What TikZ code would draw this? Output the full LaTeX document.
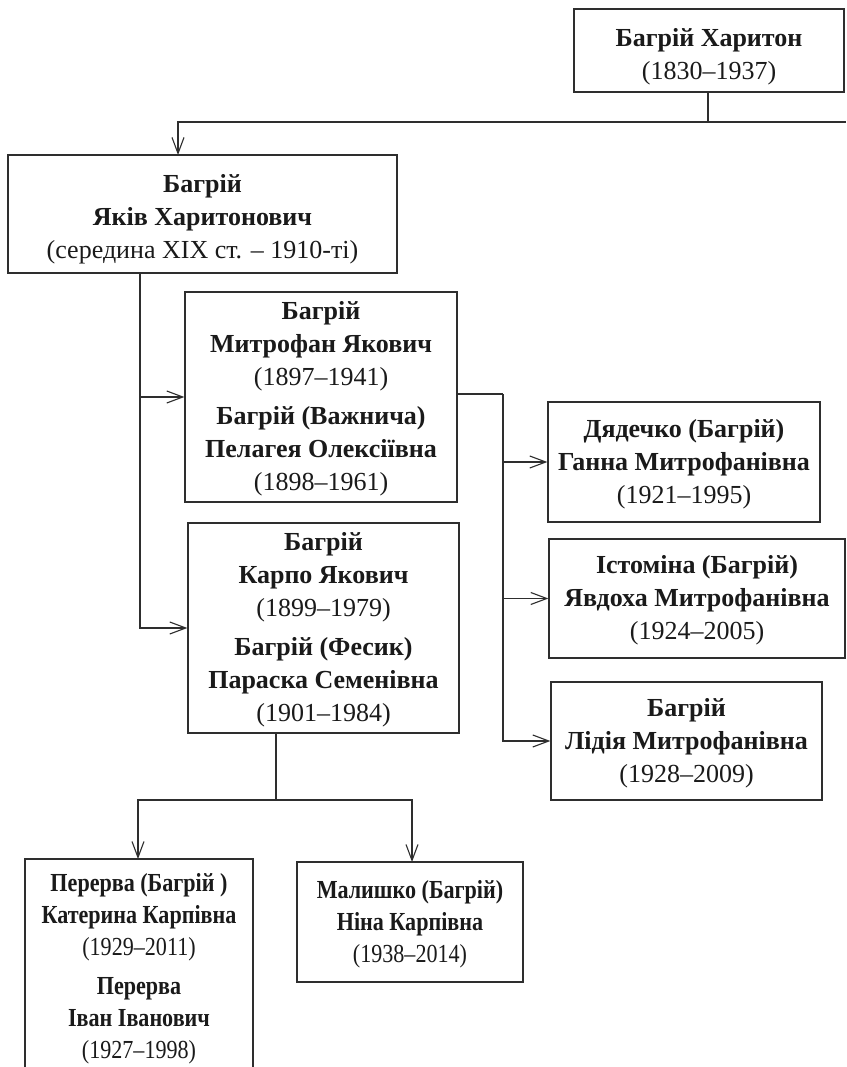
\documentclass[tikz,border=0pt]{standalone}
\usepackage{fontspec}
\setmainfont{Liberation Serif}
\newfontfamily\condserif{Liberation Serif}[FakeStretch=0.85]
\usetikzlibrary{arrows.meta}
\definecolor{ink}{HTML}{1A1A1A}
\definecolor{linec}{HTML}{2E2E2E}
\begin{document}
\begin{tikzpicture}[x=1pt,y=1pt,
  box/.style={draw=linec, line width=1.3pt, inner sep=0pt},
  txt/.style={align=center, inner sep=0pt, text=ink, font=\fontsize{26}{33}\selectfont},
  ctxt/.style={txt, font=\fontsize{26}{32}\condserif},
  conn/.style={draw=linec, line width=1.3pt},
  arr/.style={conn, -{Straight Barb[length=16pt,width=12pt,line width=1.1pt]}}
]
\clip (0,0) rectangle (846,-1067);
\fill[white] (0,0) rectangle (846,-1067);

% boxes
\node[box, minimum width=270, minimum height=83] (h) at (709,-50.5) {};
\node[box, minimum width=389, minimum height=118] (y) at (202.5,-214) {};
\node[box, minimum width=272, minimum height=210] (m) at (321,-397) {};
\node[box, minimum width=271, minimum height=210] (k) at (323.5,-628) {};
\node[box, minimum width=272, minimum height=120] (g) at (684,-462) {};
\node[box, minimum width=296, minimum height=119] (ya) at (697,-598.5) {};
\node[box, minimum width=271, minimum height=118] (l) at (686.5,-741) {};
\node[box, minimum width=228, minimum height=216] (p) at (139,-967) {};
\node[box, minimum width=226, minimum height=120] (n) at (410,-922) {};

% texts
\node[txt] (ht) at ([yshift=-6]h.center)
  {\textbf{Багрій Харитон}\\(1830–1937)};
\node[txt] (yt) at ([yshift=-5]y.center)
  {\textbf{Багрій}\\\textbf{Яків Харитонович}\\(середина XIX ст. – 1910-ті)};
\node[txt] (mt) at ([yshift=-2]m.center)
  {\textbf{Багрій}\\\textbf{Митрофан Якович}\\(1897–1941)\\[6pt]\textbf{Багрій (Важнича)}\\\textbf{Пелагея Олексіївна}\\(1898–1961)};
\node[txt] (kt) at ([yshift=-2]k.center)
  {\textbf{Багрій}\\\textbf{Карпо Якович}\\(1899–1979)\\[6pt]\textbf{Багрій (Фесик)}\\\textbf{Параска Семенівна}\\(1901–1984)};
\node[txt] (gt) at ([yshift=-2]g.center)
  {\textbf{Дядечко (Багрій)}\\\textbf{Ганна Митрофанівна}\\(1921–1995)};
\node[txt] (yat) at ([yshift=-2]ya.center)
  {\textbf{Істоміна (Багрій)}\\\textbf{Явдоха Митрофанівна}\\(1924–2005)};
\node[txt] (lt) at ([yshift=-2]l.center)
  {\textbf{Багрій}\\\textbf{Лідія Митрофанівна}\\(1928–2009)};
\node[ctxt] (pt) at ([yshift=-2]p.center)
  {\textbf{Перерва (Багрій )}\\\textbf{Катерина Карпівна}\\(1929–2011)\\[7pt]\textbf{Перерва}\\\textbf{Іван Іванович}\\(1927–1998)};
\node[ctxt] (nt) at ([yshift=-2]n.center)
  {\textbf{Малишко (Багрій)}\\\textbf{Ніна Карпівна}\\(1938–2014)};

% Харитон -> Яків
\coordinate (hj) at (708,-122);
\coordinate (hr) at (846,-122);
\coordinate (yin) at (178,-155);
\draw[conn] (h.south -| hj) -- (hj);
\draw[conn] (hj) -- (hr);
\draw[arr] (hj) -| (yin);

% Яків -> sons
\coordinate (ys) at (140,-273);
\draw[arr] (ys) |- (m.west);
\draw[arr] (ys) |- (k.west);

% Митрофан -> daughters
\coordinate (mj) at (503,-394);
\draw[conn] (m.east |- mj) -- (mj);
\draw[arr] (mj) |- (g.west);
\draw[arr] (mj) |- (ya.west);
\draw[arr] (mj) |- (l.west);

% Карпо -> daughters
\coordinate (ks) at (276,-733);
\coordinate (kj) at (276,-800);
\coordinate (pin) at (138,-859);
\coordinate (nin) at (412,-862);
\draw[conn] (ks) -- (kj);
\draw[arr] (kj) -| (pin);
\draw[arr] (kj) -| (nin);
\end{tikzpicture}
\end{document}
